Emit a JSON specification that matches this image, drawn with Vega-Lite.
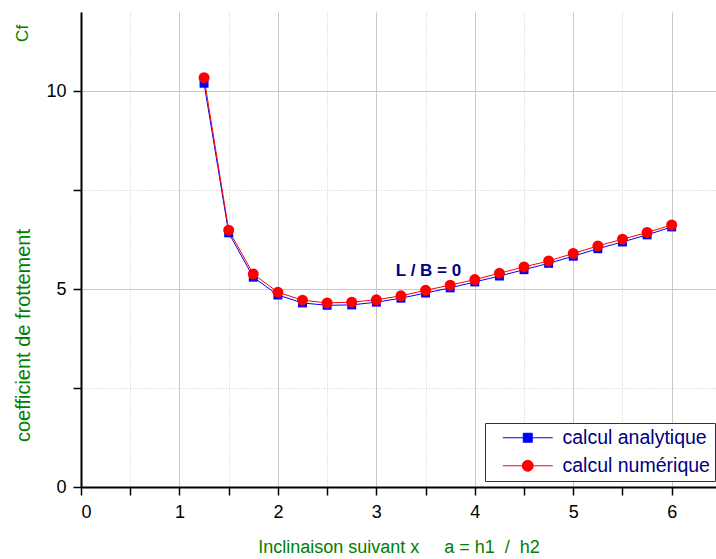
{
  "$schema": "https://vega.github.io/schema/vega-lite/v6.json",
  "width": 635,
  "height": 475,
  "autosize": {"type": "none"},
  "padding": {"left": 81, "top": 12, "right": 0, "bottom": 72},
  "background": "white",
  "config": {
    "view": {"stroke": null},
    "font": "Liberation Sans",
    "axis": {
      "domainColor": "black",
      "domainWidth": 2,
      "tickColor": "black",
      "tickWidth": 1.5,
      "tickSize": 8,
      "labelColor": "black",
      "labelFont": "Liberation Sans",
      "labelFontSize": 18,
      "labelOverlap": false,
      "gridColor": "#c8c8c8",
      "gridWidth": 1,
      "titleColor": "#008000",
      "titleFont": "Liberation Sans",
      "titleFontSize": 18,
      "titleFontWeight": "normal"
    },
    "legend": {
      "title": null,
      "orient": "none",
      "legendX": 404,
      "legendY": 411,
      "fillColor": "white",
      "strokeColor": "#333333",
      "padding": 5,
      "labelFont": "Liberation Sans",
      "labelFontSize": 19.5,
      "labelColor": "#000080",
      "symbolSize": 100,
      "symbolStrokeWidth": 1,
      "symbolOffset": 28,
      "labelOffset": 25,
      "rowPadding": 7
    }
  },
  "datasets": {
    "curves": [
      {"a": 1.25, "cf": 10.2, "serie": "calcul analytique"},
      {"a": 1.5, "cf": 6.42, "serie": "calcul analytique"},
      {"a": 1.75, "cf": 5.3, "serie": "calcul analytique"},
      {"a": 2.0, "cf": 4.85, "serie": "calcul analytique"},
      {"a": 2.25, "cf": 4.65, "serie": "calcul analytique"},
      {"a": 2.5, "cf": 4.59, "serie": "calcul analytique"},
      {"a": 2.75, "cf": 4.6, "serie": "calcul analytique"},
      {"a": 3.0, "cf": 4.67, "serie": "calcul analytique"},
      {"a": 3.25, "cf": 4.77, "serie": "calcul analytique"},
      {"a": 3.5, "cf": 4.9, "serie": "calcul analytique"},
      {"a": 3.75, "cf": 5.03, "serie": "calcul analytique"},
      {"a": 4.0, "cf": 5.18, "serie": "calcul analytique"},
      {"a": 4.25, "cf": 5.33, "serie": "calcul analytique"},
      {"a": 4.5, "cf": 5.49, "serie": "calcul analytique"},
      {"a": 4.75, "cf": 5.65, "serie": "calcul analytique"},
      {"a": 5.0, "cf": 5.83, "serie": "calcul analytique"},
      {"a": 5.25, "cf": 6.02, "serie": "calcul analytique"},
      {"a": 5.5, "cf": 6.19, "serie": "calcul analytique"},
      {"a": 5.75, "cf": 6.37, "serie": "calcul analytique"},
      {"a": 6.0, "cf": 6.57, "serie": "calcul analytique"},
      {"a": 1.25, "cf": 10.34, "serie": "calcul numérique"},
      {"a": 1.5, "cf": 6.49, "serie": "calcul numérique"},
      {"a": 1.75, "cf": 5.38, "serie": "calcul numérique"},
      {"a": 2.0, "cf": 4.92, "serie": "calcul numérique"},
      {"a": 2.25, "cf": 4.72, "serie": "calcul numérique"},
      {"a": 2.5, "cf": 4.65, "serie": "calcul numérique"},
      {"a": 2.75, "cf": 4.67, "serie": "calcul numérique"},
      {"a": 3.0, "cf": 4.73, "serie": "calcul numérique"},
      {"a": 3.25, "cf": 4.83, "serie": "calcul numérique"},
      {"a": 3.5, "cf": 4.97, "serie": "calcul numérique"},
      {"a": 3.75, "cf": 5.1, "serie": "calcul numérique"},
      {"a": 4.0, "cf": 5.24, "serie": "calcul numérique"},
      {"a": 4.25, "cf": 5.4, "serie": "calcul numérique"},
      {"a": 4.5, "cf": 5.56, "serie": "calcul numérique"},
      {"a": 4.75, "cf": 5.71, "serie": "calcul numérique"},
      {"a": 5.0, "cf": 5.9, "serie": "calcul numérique"},
      {"a": 5.25, "cf": 6.09, "serie": "calcul numérique"},
      {"a": 5.5, "cf": 6.26, "serie": "calcul numérique"},
      {"a": 5.75, "cf": 6.43, "serie": "calcul numérique"},
      {"a": 6.0, "cf": 6.62, "serie": "calcul numérique"}
    ],
    "notes": [
      {"a": 3.53, "cf": 5.46, "txt": "L / B = 0"}
    ],
    "unit": [
      {"a": -0.59, "cf": 11.46, "txt": "Cf"}
    ]
  },
  "resolve": {"scale": {"shape": "independent", "fill": "independent", "stroke": "independent"}},
  "layer": [
    {
      "data": {"name": "curves"},
      "mark": {"type": "line", "strokeWidth": 1},
      "encoding": {
        "x": {
          "field": "a",
          "type": "quantitative",
          "scale": {"domain": [0, 6.45], "nice": false, "zero": false},
          "axis": {
            "values": [0, 0.5, 1, 1.5, 2, 2.5, 3, 3.5, 4, 4.5, 5, 5.5, 6],
            "labelExpr": "datum.value % 1 === 0 ? format(datum.value, 'd') : ''",
            "gridDash": {"condition": {"test": "datum.value % 1 !== 0", "value": [1, 2]}, "value": []},
            "labelPadding": 8,
            "title": "Inclinaison suivant x\u00a0\u00a0\u00a0\u00a0 a = h1\u00a0 /\u00a0 h2",
            "titlePadding": 17,
            "encode": {
              "ticks": {"update": {"y2": {"signal": "datum.value % 1 === 0 ? 8 : 5"}}}
            }
          }
        },
        "y": {
          "field": "cf",
          "type": "quantitative",
          "scale": {"domain": [0, 12], "nice": false},
          "axis": {
            "values": [0, 2.5, 5, 7.5, 10],
            "labelExpr": "datum.value % 5 === 0 ? format(datum.value, 'd') : ''",
            "gridDash": {"condition": {"test": "datum.value % 5 !== 0", "value": [1, 2]}, "value": []},
            "labelPadding": 7,
            "title": "coefficient de frottement",
            "titleFontSize": 20,
            "titleX": -58,
            "titleY": 323,
            "titleAngle": -90,
            "titleAlign": "center",
            "titleBaseline": "middle",
            "encode": {
              "ticks": {"update": {"x2": {"signal": "datum.value % 5 === 0 ? -8 : -5"}}}
            }
          }
        },
        "color": {
          "field": "serie",
          "type": "nominal",
          "scale": {"domain": ["calcul analytique", "calcul numérique"], "range": ["#0000ff", "#ff0000"]},
          "legend": null
        }
      }
    },
    {
      "data": {"name": "curves"},
      "mark": {"type": "point", "filled": true, "opacity": 1},
      "encoding": {
        "x": {"field": "a", "type": "quantitative"},
        "y": {"field": "cf", "type": "quantitative"},
        "color": {"field": "serie", "type": "nominal", "legend": null},
        "shape": {
          "field": "serie",
          "type": "nominal",
          "scale": {"domain": ["calcul analytique", "calcul numérique"], "range": ["square", "circle"]},
          "legend": null
        },
        "size": {
          "field": "serie",
          "type": "nominal",
          "scale": {"domain": ["calcul analytique", "calcul numérique"], "range": [80, 120]},
          "legend": null
        }
      }
    },
    {
      "data": {"name": "curves"},
      "transform": [{"filter": "datum.cf < 0"}],
      "mark": {"type": "point", "filled": true, "opacity": 1, "strokeWidth": 1},
      "encoding": {
        "x": {"field": "a", "type": "quantitative"},
        "y": {"field": "cf", "type": "quantitative"},
        "fill": {
          "field": "serie",
          "type": "nominal",
          "scale": {"domain": ["calcul analytique", "calcul numérique"], "range": ["#0000ff", "#ff0000"]},
          "legend": {}
        },
        "stroke": {
          "field": "serie",
          "type": "nominal",
          "scale": {"domain": ["calcul analytique", "calcul numérique"], "range": ["#0000ff", "#ff0000"]},
          "legend": {}
        },
        "shape": {
          "field": "serie",
          "type": "nominal",
          "scale": {
            "domain": ["calcul analytique", "calcul numérique"],
            "range": [
              "M-5,0H-0.9M0.9,0H5M-0.9,-0.9H0.9V0.9H-0.9Z",
              "M-5,0H-1.1M1.1,0H5M-1.1,0A1.1,1.1 0 1,0 1.1,0A1.1,1.1 0 1,0 -1.1,0Z"
            ]
          },
          "legend": {}
        }
      }
    },
    {
      "data": {"name": "notes"},
      "mark": {"type": "text", "font": "Liberation Sans", "fontSize": 17, "fontWeight": "bold", "color": "#000080", "align": "center", "baseline": "middle"},
      "encoding": {
        "x": {"field": "a", "type": "quantitative"},
        "y": {"field": "cf", "type": "quantitative"},
        "text": {"field": "txt"}
      }
    },
    {
      "data": {"name": "unit"},
      "mark": {"type": "text", "font": "Liberation Sans", "fontSize": 17, "color": "#008000", "align": "center", "baseline": "middle", "angle": 270},
      "encoding": {
        "x": {"field": "a", "type": "quantitative"},
        "y": {"field": "cf", "type": "quantitative"},
        "text": {"field": "txt"}
      }
    }
  ]
}
